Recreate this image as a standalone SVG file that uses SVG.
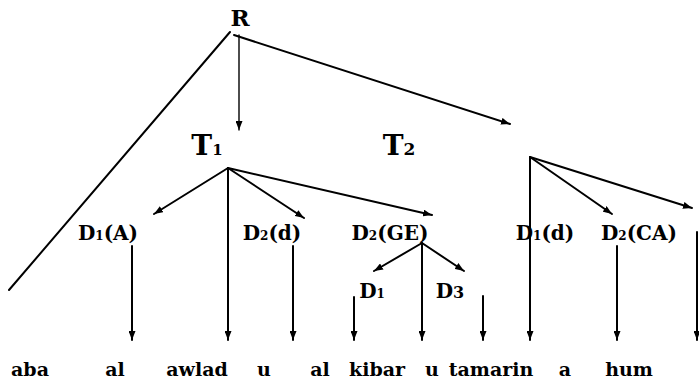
<svg xmlns="http://www.w3.org/2000/svg" width="699" height="387" viewBox="0 0 699 387">
<style>
  .lbl { font-family: "DejaVu Serif", "Liberation Serif", serif; font-weight: bold; fill: #000; text-anchor: middle; }
  .big { font-size: 28px; }
  .root { font-size: 23px; }
  .d { font-size: 20px; }
  .w { font-size: 19px; }
  .sub { font-size: 12px; }
  .c { stroke: #000; stroke-width: 2; fill: none; stroke-linecap: round; }
  .thin { stroke-width: 1.4; }
</style>
<defs>
  <marker id="ah" viewBox="0 0 9 7" refX="9" refY="3.5" markerWidth="9" markerHeight="7" markerUnits="userSpaceOnUse" orient="auto">
    <path d="M0,0 L9,3.5 L0,7 z" fill="#000"/>
  </marker>
</defs>
<rect width="699" height="387" fill="#fff"/>
<g id="connectors">
  <line class="c" x1="230" y1="32" x2="9" y2="290"/>
  <line class="c thin" x1="239" y1="35" x2="239" y2="130" marker-end="url(#ah)"/>
  <line class="c" x1="234" y1="35" x2="510" y2="124" marker-end="url(#ah)"/>
  <line class="c" x1="228" y1="168" x2="154" y2="214" marker-end="url(#ah)"/>
  <line class="c" x1="228" y1="168" x2="228" y2="340" marker-end="url(#ah)"/>
  <line class="c" x1="228" y1="168" x2="304" y2="218" marker-end="url(#ah)"/>
  <line class="c" x1="228" y1="168" x2="432" y2="215" marker-end="url(#ah)"/>
  <line class="c" x1="132" y1="246" x2="132" y2="340" marker-end="url(#ah)"/>
  <line class="c" x1="293" y1="246" x2="293" y2="340" marker-end="url(#ah)"/>
  <line class="c" x1="422" y1="243" x2="374" y2="271" marker-end="url(#ah)"/>
  <line class="c" x1="422" y1="243" x2="422" y2="340" marker-end="url(#ah)"/>
  <line class="c" x1="422" y1="243" x2="464" y2="271" marker-end="url(#ah)"/>
  <line class="c" x1="354" y1="297" x2="354" y2="340" marker-end="url(#ah)"/>
  <line class="c" x1="483" y1="296" x2="483" y2="340" marker-end="url(#ah)"/>
  <line class="c" x1="530" y1="157" x2="530" y2="340" marker-end="url(#ah)"/>
  <line class="c" x1="530" y1="157" x2="612" y2="214" marker-end="url(#ah)"/>
  <line class="c" x1="530" y1="157" x2="692" y2="208" marker-end="url(#ah)"/>
  <line class="c" x1="617" y1="246" x2="617" y2="340" marker-end="url(#ah)"/>
  <line class="c" x1="697" y1="232" x2="697" y2="340" marker-end="url(#ah)"/>
</g>
<g id="R"><text class="lbl root" x="240" y="26">R</text></g>
<g id="T1"><text class="lbl big" x="207" y="155">T<tspan font-size="15">1</tspan></text></g>
<g id="T2"><text class="lbl big" x="399" y="155">T<tspan font-size="17">2</tspan></text></g>
<g id="D1A"><text class="lbl d" x="108" y="240">D<tspan class="sub">1</tspan>(A)</text></g>
<g id="D2d"><text class="lbl d" x="272" y="240">D<tspan class="sub">2</tspan>(d)</text></g>
<g id="D2GE"><text class="lbl d" x="390" y="240">D<tspan class="sub">2</tspan>(GE)</text></g>
<g id="D1d"><text class="lbl d" x="545" y="240">D<tspan class="sub">1</tspan>(d)</text></g>
<g id="D2CA"><text class="lbl d" x="639" y="240">D<tspan class="sub">2</tspan>(CA)</text></g>
<g id="D1"><text class="lbl d" x="372" y="298">D<tspan class="sub">1</tspan></text></g>
<g id="D3"><text class="lbl d" x="450" y="298">D<tspan font-size="16">3</tspan></text></g>
<g id="words">
  <text class="lbl w" x="30" y="376">aba</text>
  <text class="lbl w" x="115" y="376">al</text>
  <text class="lbl w" x="197" y="376">awlad</text>
  <text class="lbl w" x="264" y="376">u</text>
  <text class="lbl w" x="320" y="376">al</text>
  <text class="lbl w" x="377" y="376">kibar</text>
  <text class="lbl w" x="432" y="376">u</text>
  <text class="lbl w" x="491" y="376">tamarin</text>
  <text class="lbl w" x="565" y="376">a</text>
  <text class="lbl w" x="629" y="376">hum</text>
</g>
</svg>
